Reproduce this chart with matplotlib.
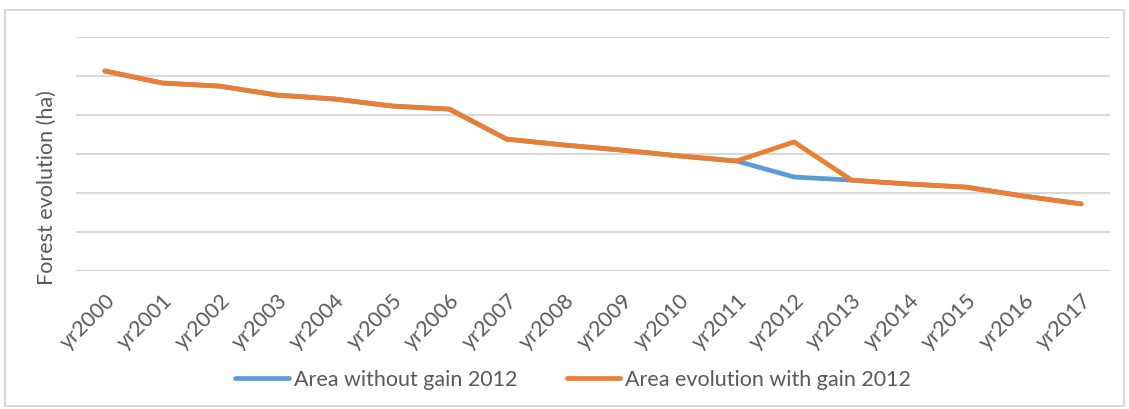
import matplotlib.pyplot as plt
from matplotlib.patches import Rectangle

years = [f"yr{y}" for y in range(2000, 2018)]
area_without_gain = [5.13, 4.82, 4.74, 4.51, 4.41, 4.23, 4.15, 3.38, 3.23, 3.10,
                     2.95, 2.82, 2.41, 2.33, 2.23, 2.15, 1.92, 1.72]
area_with_gain = [5.13, 4.82, 4.74, 4.51, 4.41, 4.23, 4.15, 3.38, 3.23, 3.10,
                  2.95, 2.82, 3.31, 2.33, 2.23, 2.15, 1.92, 1.72]

plt.rcParams["font.family"] = ["Lato", "DejaVu Sans"]
W, H = 1129, 409
fig = plt.figure(figsize=(W / 100, H / 100), dpi=100)
fig.patches.append(Rectangle((5 / W, 3 / H), 1119 / W, 396 / H, transform=fig.transFigure,
                             fill=False, edgecolor="#D9D9D9", lw=1.5))

ax = fig.add_axes([76 / W, 1 - 271 / H, (1110 - 76) / W, (271 - 37) / H])
x = range(len(years))
ax.plot(x, area_without_gain, color="#5B9BD5", lw=3.4, solid_capstyle="round",
        label="Area without gain 2012", zorder=3)
ax.plot(x, area_with_gain, color="#ED7D31", lw=3.4, solid_capstyle="round",
        label="Area evolution with gain 2012", zorder=4)

ax.set_xlim(-0.5, len(years) - 0.5)
ax.set_ylim(0, 6)
ax.set_yticks(range(7))
ax.set_yticklabels([])
ax.grid(axis="y", color="#D9D9D9", lw=1.5)
ax.set_axisbelow(True)
ax.tick_params(axis="both", length=0)
for s in ax.spines.values():
    s.set_visible(False)

ax.set_xticks(list(x))
ax.set_xticklabels(years, rotation=45, ha="right", va="top", rotation_mode="anchor",
                   fontsize=15.5, color="#595959")
ax.tick_params(axis="x", pad=14)

fig.text(47 / W, 1 - 188 / H, "Forest evolution (ha)", rotation=90, ha="center",
         va="center", fontsize=15.5, color="#595959")

leg = fig.legend(loc="center", bbox_to_anchor=(573 / W, 1 - 380 / H), ncol=2,
                 frameon=False, fontsize=15.5, handlelength=2.5, handletextpad=0.23,
                 columnspacing=2.3)
for t in leg.get_texts():
    t.set_color("#595959")

fig.savefig("out.png", dpi=100, facecolor="white")
